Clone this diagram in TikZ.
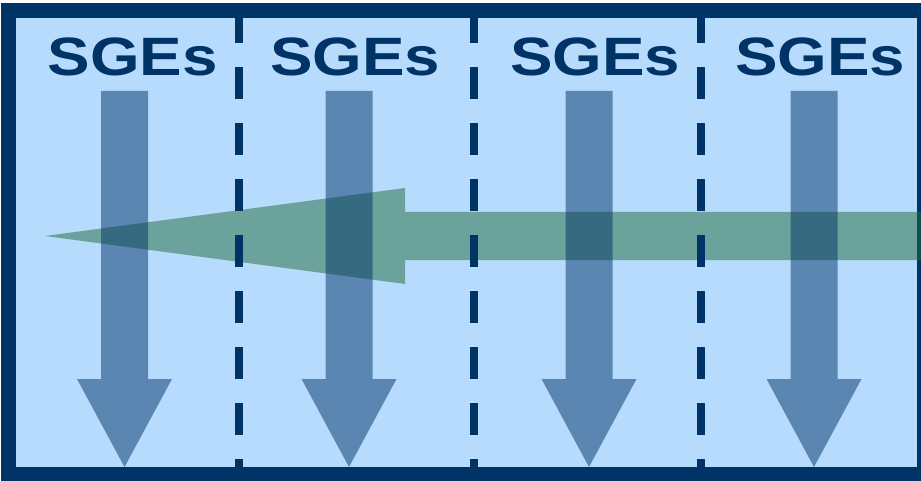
\documentclass[tikz,border=0pt]{standalone}
\usepackage{fontspec}
\setmainfont{Liberation Sans}
\definecolor{navy}{RGB}{0,51,102}
\definecolor{paleblue}{RGB}{183,219,253}
\definecolor{flowgreen}{RGB}{35,107,61}
\tikzset{
  sgelabel/.style={anchor=base, text=navy, font=\fontsize{54}{60}\selectfont\bfseries},
  divider/.style={draw=navy, line width=8pt, dash pattern=on 32pt off 24pt},
}
\newcommand{\sgetext}{\scalebox{1.18}[1]{SGEs}}
\begin{document}
\begin{tikzpicture}[x=1pt, y=-1pt]
        \useasboundingbox (0,0) rectangle (921,481);
        \clip (0,0) rectangle (921,481);
        \fill[paleblue] (8,11) rectangle (924.5,474.5);
        \draw[navy, line width=15pt] (8,11) rectangle (924.5,474.5);
        % flow from the right
        \fill[flowgreen, fill opacity=0.5] (960,212) -- (405,212) -- (405,188) -- (45,236)
            -- (405,284) -- (405,260) -- (960,260) -- cycle;
        \draw[divider] (239,11) -- (239,474.5);
        \draw[divider] (474,11) -- (474,474.5);
        \draw[divider] (701,11) -- (701,474.5);
        % one arrow per column
        \foreach \c in {124.5, 349, 589, 814}
            \fill[navy, fill opacity=0.5] (\c-23.5,91) -- (\c+23.5,91) -- (\c+23.5,379) -- (\c+47.5,379)
                -- (\c,467) -- (\c-47.5,379) -- (\c-23.5,379) -- cycle;
        \node[sgelabel] (sge1) at (132.5,76) {\sgetext};
        \node[sgelabel] (sge2) at (355,76) {\sgetext};
        \node[sgelabel] (sge3) at (595,76) {\sgetext};
        \node[sgelabel] (sge4) at (820,76) {\sgetext};
    \end{tikzpicture}
\end{document}
